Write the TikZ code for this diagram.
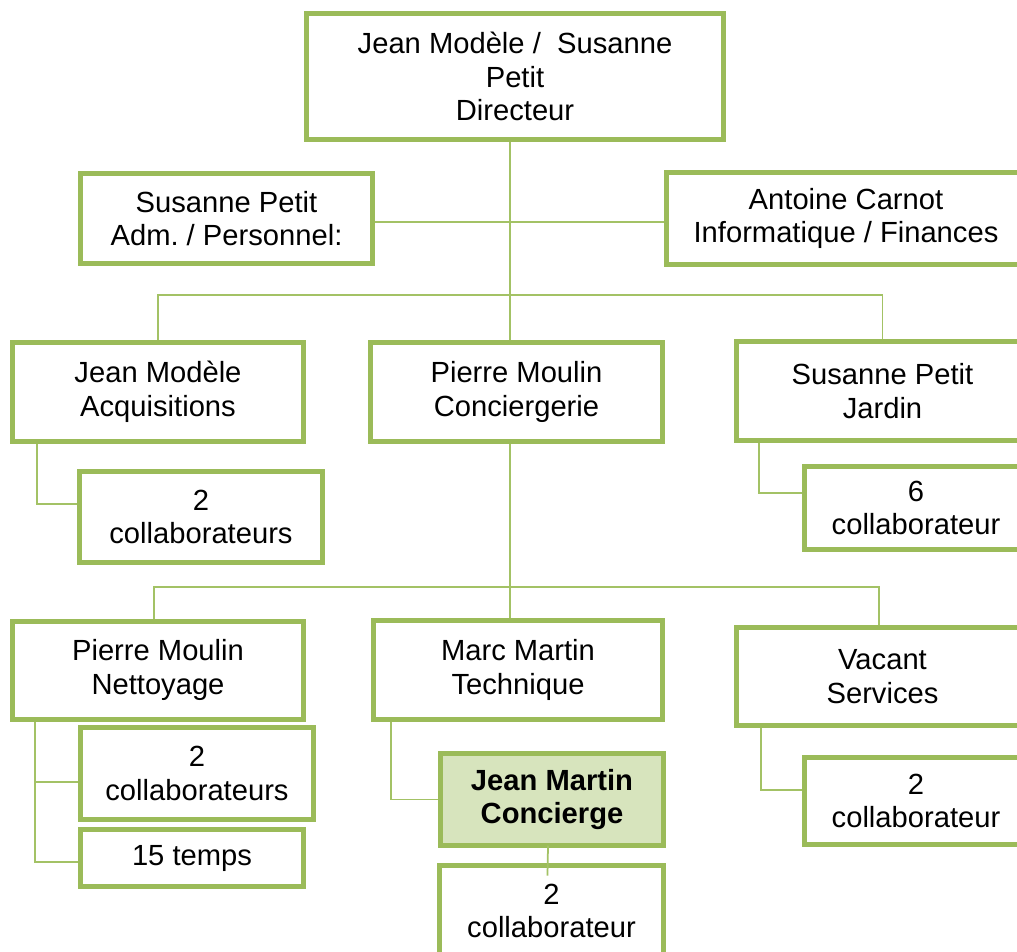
\documentclass[tikz,border=0pt]{standalone}
\usepackage{fontspec}
\setmainfont{Liberation Sans}
\usetikzlibrary{backgrounds}
\definecolor{boxgreen}{HTML}{9BBB59}
\definecolor{linkgreen}{HTML}{A3C265}
\definecolor{headfill}{HTML}{D7E4BD}
\frenchspacing

\begin{document}
\begin{tikzpicture}[x=0.02cm,y=-0.02cm,every node/.style={outer sep=0pt},
    post/.style={draw=boxgreen,line width=0.1cm,fill=white,align=center,
    inner sep=0pt,font=\fontsize{16.6}{19.2}\selectfont},
    link/.style={draw=linkgreen,line width=0.035cm}]
  \useasboundingbox (0,0) rectangle (1017,951);

  % direction
  \node[post,minimum width=8.34cm,minimum height=2.52cm] (dir) at (515,76.5)
   {Jean Modèle /\ \ Susanne\\Petit\\Directeur};
  \node[post,minimum width=5.84cm,minimum height=1.8cm] (adm) at (226.5,218.5)
   {Susanne Petit\\Adm. / Personnel:};
  \node[post,minimum width=7.2cm,minimum height=1.84cm] (info) at (846,218.5)
   {Antoine Carnot\\Informatique / Finances};

  % services
  \node[post,minimum width=5.82cm,minimum height=1.98cm] (acq) at (158,392)
   {Jean Modèle\\Acquisitions};
  \node[post,minimum width=5.84cm,minimum height=1.98cm] (conc) at (516.5,392)
   {Pierre Moulin\\Conciergerie};
  \node[post,minimum width=5.84cm,minimum height=1.98cm] (jard) at (882.5,391)
   {Susanne Petit\\Jardin};
  \node[post,minimum width=4.86cm,minimum height=1.82cm] (acqc) at (201,517)
   {2\\collaborateurs};
  \node[post,minimum width=4.48cm,minimum height=1.66cm] (jardc) at (916,508)
   {6\\collaborateur};

  % conciergerie
  \node[post,minimum width=5.82cm,minimum height=1.96cm] (nett) at (158,670)
   {Pierre Moulin\\Nettoyage};
  \node[post,minimum width=5.78cm,minimum height=1.98cm] (tech) at (518,670)
   {Marc Martin\\Technique};
  \node[post,minimum width=5.84cm,minimum height=1.96cm] (serv) at (882.5,676.5)
   {Vacant\\Services};
  \node[post,minimum width=4.66cm,minimum height=1.84cm] (nettc) at (197,773.5)
   {2\\collaborateurs};
  \node[post,minimum width=4.46cm,minimum height=1.14cm] (temps) at (192,858)
   {15 temps};
  \node[post,fill=headfill,font=\fontsize{16.6}{19.2}\selectfont\bfseries,
   minimum width=4.46cm,minimum height=1.84cm] (concierge) at (552,799.5)
   {Jean Martin\\Concierge};
  \node[post,minimum width=4.48cm,minimum height=1.82cm] (concc) at (551.5,911)
   {2\\collaborateur};
  \node[post,minimum width=4.48cm,minimum height=1.74cm] (servc) at (916,801)
   {2\\collaborateur};

  \coordinate (bus1) at (510,295);
  \coordinate (bus2) at (510,587);
  \begin{scope}[on background layer]
   \draw[link] (dir.south -| bus1) -- (conc.north -| bus1);
   \draw[link] (adm.east |- 0,222) -- (info.west |- 0,222);
   \draw[link] (acq.north) |- (bus1) -| (jard.north);
   \draw[link] (conc.south -| bus2) -- (tech.north -| bus2);
   \draw[link] ([xshift=-0.08cm]nett.north) |- (bus2) -| ([xshift=-0.07cm]serv.north);
   \draw[link] ([xshift=0.49cm]acq.south west) |- ([yshift=0.26cm]acqc.west);
   \draw[link] ([xshift=0.45cm]jard.south west) |- ([yshift=0.3cm]jardc.west);
   \draw[link] ([xshift=0.45cm]nett.south west) |- ([yshift=-0.17cm]nettc.west);
   \draw[link] ([xshift=0.45cm]nett.south west) |- ([yshift=-0.08cm]temps.west);
   \draw[link] ([xshift=0.35cm]tech.south west) |- (concierge.west);
   \draw[link] ([xshift=0.49cm]serv.south west) |- ([yshift=0.22cm]servc.west);
  \end{scope}
  \draw[link] ([xshift=-0.08cm]concierge.south) -- ([xshift=-0.08cm,yshift=-0.2cm]concc.north);
\end{tikzpicture}
\end{document}
